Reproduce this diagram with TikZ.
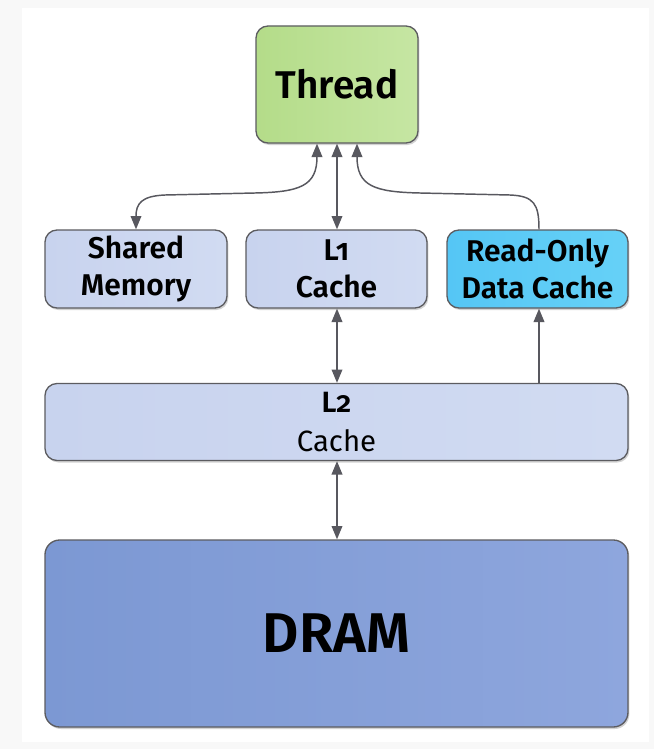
\documentclass[tikz,border=0pt]{standalone}
\usepackage{fontspec}
\setmainfont{Fira Sans}[Numbers=OldStyle, BoldFont={Fira Sans SemiBold}]
\usetikzlibrary{arrows.meta,shadows,calc}
\definecolor{framegray}{HTML}{F8F8F8}
\definecolor{edgegray}{HTML}{5C5C60}
\definecolor{arrowgray}{HTML}{58585F}
\definecolor{thrA}{HTML}{B4DC89}
\definecolor{thrB}{HTML}{C6E6A3}
\definecolor{boxA}{HTML}{C8D3EE}
\definecolor{boxB}{HTML}{D1DBF2}
\definecolor{roA}{HTML}{55C6F5}
\definecolor{roB}{HTML}{66D1F7}
\definecolor{dramA}{HTML}{7C98D3}
\definecolor{dramB}{HTML}{8EA6DD}
\tikzset{
  memblock/.style={draw=edgegray, line width=1pt, rounded corners=9pt, align=center,
    inner sep=0pt, text=black,
    drop shadow={shadow xshift=1pt, shadow yshift=-1.5pt, fill=black!35, opacity=0.5}},
  link/.style={draw=arrowgray, line width=1.1pt},
  tip/.style={-{Triangle[length=10pt,width=8pt]}},
  tips/.style={{Triangle[length=10pt,width=8pt]}-{Triangle[length=10pt,width=8pt]}},
}
\begin{document}
\begin{tikzpicture}[x=0.75pt,y=-0.75pt]
\fill[framegray] (0,0) rectangle (654,749);
\fill[white] (22,8) rectangle (649,742);
\useasboundingbox (0,0) rectangle (654,749);

\node[memblock, left color=thrA, right color=thrB, minimum width=121.5pt, minimum height=87.75pt,
  font=\fontsize{29}{34}\selectfont\bfseries] (thread) at (337,84.5) {Thread};
\node[memblock, left color=boxA, right color=boxB, minimum width=136.5pt, minimum height=58.5pt,
  font=\fontsize{22.5}{27.5}\selectfont\bfseries] (shared) at (136,269) {Shared\\Memory};
\node[memblock, left color=boxA, right color=boxB, minimum width=135.75pt, minimum height=58.5pt,
  font=\fontsize{22.5}{27.5}\selectfont\bfseries] (lone) at (336.5,269) {L1\\Cache};
\node[memblock, left color=roA, right color=roB, minimum width=135.75pt, minimum height=58.5pt,
  font=\fontsize{22.5}{27.5}\selectfont\bfseries] (ro) at (537.5,269) {Read-Only\\Data Cache};
\node[memblock, left color=boxA, right color=boxB, minimum width=437.25pt, minimum height=57.75pt,
  font=\fontsize{22}{29}\selectfont] (ltwo) at (336.5,422) {\textbf{L2}\\Cache};
\node[memblock, left color=dramA, right color=dramB, minimum width=437.25pt, minimum height=140.25pt,
  rounded corners=11pt, font=\fontsize{42}{48}\selectfont\bfseries] (dram) at (336.5,633.5) {DRAM};

% Thread <-> Shared Memory
\draw[link, tips] ($(thread.south)+(-20,0)$) .. controls (317,186) and (300,192) .. (255,193)
  -- (165,195) .. controls (141,196) and (136,204) .. (shared.north);
% Thread <-> L1
\draw[link, tips] (thread.south) -- (thread.south |- lone.north);
% Read-only -> Thread
\draw[link, tip] (ro.north -| 539,0) .. controls (539,204) and (534,196) .. (510,195)
  -- (420,193) .. controls (374,192) and (357,186) .. ($(thread.south)+(20,0)$);
% L1 <-> L2
\draw[link, tips] (lone.south -| thread.south) -- (ltwo.north -| thread.south);
% L2 -> Read-only
\draw[link, tip] (ltwo.north -| 539,0) -- (ro.south -| 539,0);
% L2 <-> DRAM
\draw[link, tips] (ltwo.south -| thread.south) -- (dram.north -| thread.south);
\end{tikzpicture}
\end{document}
